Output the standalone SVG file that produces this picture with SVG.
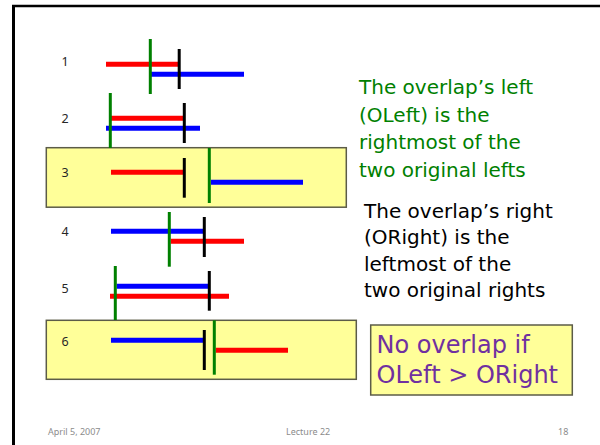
<svg xmlns="http://www.w3.org/2000/svg" width="600" height="445" viewBox="0 0 600 445">
  <style>
    .frame { stroke: #000; fill: none; }
    .box { fill: #ffff99; stroke: #5c5c48; stroke-width: 1.5; }
    .lbl { font-family: "Noto Sans", "Liberation Sans", sans-serif; font-size: 12.5px; fill: #262626; }
    .red { stroke: #ff0000; stroke-width: 5; }
    .blue { stroke: #0000ff; stroke-width: 5; }
    .ol { stroke: #008000; stroke-width: 3; }
    .or { stroke: #000000; stroke-width: 3; }
    .comic { font-family: "Comic Sans MS", "DejaVu Sans", sans-serif; }
    .foot { font-family: "Noto Sans", "Liberation Sans", sans-serif; font-size: 9px; fill: #8c8c8c; }
  </style>
  <rect width="600" height="445" fill="#ffffff"/>

  <!-- slide frame: top and left edges -->
  <g id="frame">
    <line class="frame" x1="12" y1="6" x2="600" y2="6" stroke-width="2.5"/>
    <line class="frame" x1="13.5" y1="5" x2="13.5" y2="445" stroke-width="3"/>
  </g>

  <!-- highlighted cases -->
  <rect id="box3" class="box" x="46.3" y="147.7" width="300" height="59.5"/>
  <rect id="box6" class="box" x="46.3" y="320.3" width="310" height="59"/>

  <g id="connectors">
    <!-- case 1 -->
    <g id="case1">
      <text class="lbl" x="61.5" y="66">1</text>
      <line class="red" x1="106" y1="64.3" x2="179" y2="64.3"/>
      <line class="blue" x1="150" y1="74.3" x2="244" y2="74.3"/>
      <line class="ol" x1="150.3" y1="39" x2="150.3" y2="94"/>
      <line class="or" x1="179.2" y1="49" x2="179.2" y2="89"/>
    </g>
    <!-- case 2 -->
    <g id="case2">
      <text class="lbl" x="61.5" y="122.5">2</text>
      <line class="red" x1="111" y1="118.3" x2="184" y2="118.3"/>
      <line class="blue" x1="106" y1="128.3" x2="200" y2="128.3"/>
      <line class="ol" x1="110.3" y1="93" x2="110.3" y2="148"/>
      <line class="or" x1="184.3" y1="103" x2="184.3" y2="143"/>
    </g>
    <!-- case 3 -->
    <g id="case3">
      <text class="lbl" x="61.5" y="177">3</text>
      <line class="red" x1="111" y1="172.3" x2="184" y2="172.3"/>
      <line class="blue" x1="211" y1="182.3" x2="303" y2="182.3"/>
      <line class="or" x1="184.3" y1="158" x2="184.3" y2="197.7"/>
      <line class="ol" x1="209.3" y1="148" x2="209.3" y2="203"/>
    </g>
    <!-- case 4 -->
    <g id="case4">
      <text class="lbl" x="61.5" y="236">4</text>
      <line class="blue" x1="111" y1="231.3" x2="204" y2="231.3"/>
      <line class="red" x1="170.7" y1="241.3" x2="244" y2="241.3"/>
      <line class="ol" x1="169.3" y1="212" x2="169.3" y2="266.7"/>
      <line class="or" x1="204.3" y1="217" x2="204.3" y2="257"/>
    </g>
    <!-- case 5 -->
    <g id="case5">
      <text class="lbl" x="61.5" y="293">5</text>
      <line class="blue" x1="116.7" y1="286.3" x2="209.3" y2="286.3"/>
      <line class="red" x1="110" y1="296.3" x2="229" y2="296.3"/>
      <line class="ol" x1="115.3" y1="266" x2="115.3" y2="320"/>
      <line class="or" x1="209.3" y1="271" x2="209.3" y2="310.7"/>
    </g>
    <!-- case 6 -->
    <g id="case6">
      <text class="lbl" x="61.5" y="346">6</text>
      <line class="blue" x1="111" y1="340.3" x2="204" y2="340.3"/>
      <line class="red" x1="215.7" y1="350.3" x2="288" y2="350.3"/>
      <line class="or" x1="204.3" y1="330" x2="204.3" y2="370"/>
      <line class="ol" x1="214.3" y1="320.3" x2="214.3" y2="374.7"/>
    </g>
  </g>

  <!-- explanation of OLeft -->
  <g id="oleft-note" class="comic" font-size="20" fill="#008000">
    <text x="359" y="94">The overlap’s left</text>
    <text x="359" y="121.5">(OLeft) is the</text>
    <text x="359" y="149">rightmost of the</text>
    <text x="359" y="176.5">two original lefts</text>
  </g>

  <!-- explanation of ORight -->
  <g id="oright-note" class="comic" font-size="20" fill="#000000">
    <text x="364" y="218">The overlap’s right</text>
    <text x="364" y="244.3">(ORight) is the</text>
    <text x="364" y="270.6">leftmost of the</text>
    <text x="364" y="296.9">two original rights</text>
  </g>

  <!-- no-overlap condition -->
  <g id="condition">
    <rect class="box" x="370.7" y="325" width="201.6" height="70"/>
    <text class="comic" x="376.5" y="353" font-size="24" fill="#7030a0">No overlap if</text>
    <text class="comic" x="376.5" y="383" font-size="24" fill="#7030a0">OLeft &gt; ORight</text>
  </g>

  <!-- footer -->
  <g id="footer">
    <text class="foot" x="48" y="434.5">April 5, 2007</text>
    <text class="foot" x="286" y="434.5">Lecture 22</text>
    <text class="foot" x="558" y="434.5">18</text>
  </g>
</svg>
